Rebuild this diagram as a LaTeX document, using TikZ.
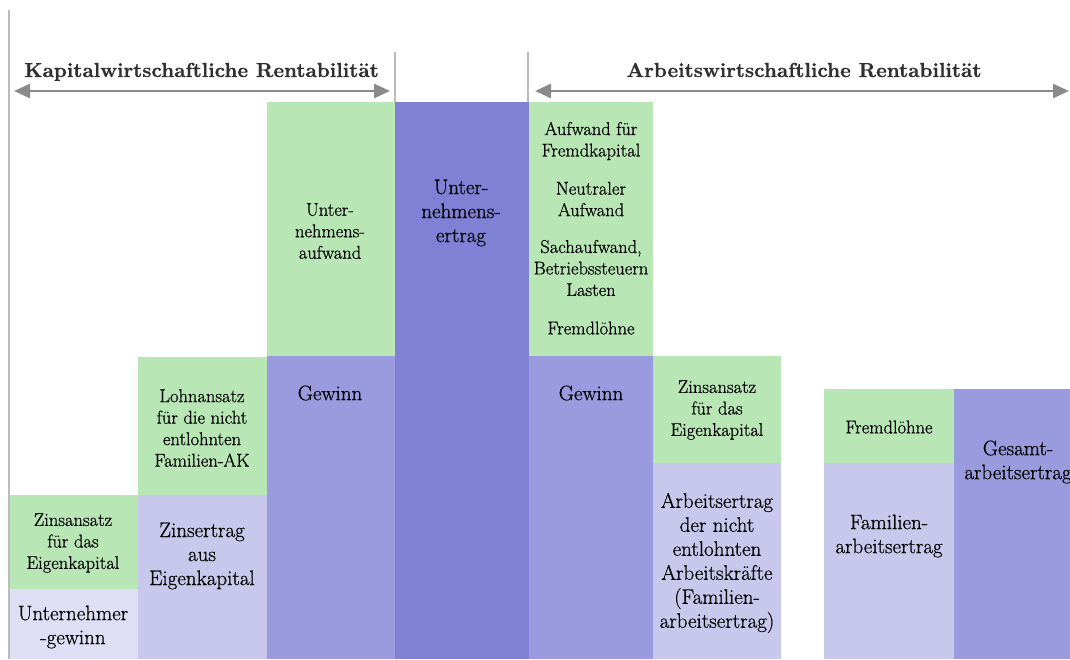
\documentclass[tikz,border=0pt]{standalone}
\usepackage{fontspec}
\usetikzlibrary{arrows.meta}
\newfontfamily\bodyfont{Latin Modern Roman}[FakeBold=0.6]
\newfontfamily\titlefont{lmroman10-bold}[Extension=.otf, FakeBold=0.7]
\definecolor{grn}{HTML}{B8E6B4}
\definecolor{lav}{HTML}{C8C8EC}
\definecolor{lavlight}{HTML}{DEDEF4}
\definecolor{pur}{HTML}{9A9ADE}
\definecolor{purdark}{HTML}{8080D4}
\definecolor{arrowgray}{HTML}{8A8A8A}
\definecolor{linegray}{HTML}{BBBBBB}
\definecolor{titlegray}{HTML}{303030}
\begin{document}
\begin{tikzpicture}[x=1pt,y=-1pt,
 small/.style={align=center,inner sep=0pt,text=black,font=\bodyfont\fontsize{18.5}{21.5}\selectfont},
 big/.style={align=center,inner sep=0pt,text=black,font=\bodyfont\fontsize{21}{24}\selectfont},
 title/.style={anchor=base,inner sep=0pt,text=titlegray,font=\titlefont\fontsize{20.3}{24}\selectfont},
 span/.style={arrowgray,line width=2.8pt,{Triangle[length=16pt,width=14pt]}-{Triangle[length=16pt,width=14pt]}},
 sep/.style={linegray,line width=1.5pt}]
\useasboundingbox (0,0) rectangle (1070,659);
% columns
\fill[grn] (10,495) rectangle (138,589);
\fill[lavlight] (10,589) rectangle (138,659);
\fill[grn] (138,357) rectangle (267,495);
\fill[lav] (138,495) rectangle (267,659);
\fill[grn] (267,102) rectangle (395,356);
\fill[pur] (267,356) rectangle (395,659);
\fill[purdark] (395,102) rectangle (529,659);
\fill[grn] (529,102) rectangle (653,356);
\fill[pur] (529,356) rectangle (653,659);
\fill[grn] (653,356) rectangle (781,463);
\fill[lav] (653,463) rectangle (781,659);
\fill[grn] (824,389) rectangle (954,463);
\fill[lav] (824,463) rectangle (954,659);
\fill[pur] (954,389) rectangle (1082,659);
% separators
\draw[sep] (9,10) -- (9,659);
\coordinate (m1t) at (395,52); \coordinate (m1b) at (395,102);
\coordinate (m2t) at (528,52); \coordinate (m2b) at (528,102);
\draw[sep] (m1t) -- (m1b);
\draw[sep] (m2t) -- (m2b);
% arrows and titles
\coordinate (a1l) at (14,91); \coordinate (a1r) at (390,91);
\coordinate (a2l) at (535,91); \coordinate (a2r) at (1069,91);
\draw[span] (a1l) -- (a1r);
\draw[span] (a2l) -- (a2r);
\node[title] (tk) at (201.5,77) {Kapitalwirtschaftliche Rentabilität};
\node[title] (ta) at (804,77) {Arbeitswirtschaftliche Rentabilität};
% texts
\node[small] (z1) at (73,543) {Zinsansatz\\für das\\Eigenkapital};
\node[big] (ug) at (73,627) {Unternehmer\\-gewinn};
\node[small] (la) at (202,428) {Lohnansatz\\für die nicht\\entlohnten\\Familien-AK};
\node[big] (ze) at (202,556) {Zinsertrag\\aus\\Eigenkapital};
\node[small] (ua) at (330,231) {Unter-\\nehmens-\\aufwand};
\node[big] (g1) at (330,393) {Gewinn};
\node[big] (ue) at (461,213) {Unter-\\nehmens-\\ertrag};
\node[small] (af) at (591,141) {Aufwand für\\Fremdkapital};
\node[small] (na) at (591,199) {Neutraler\\Aufwand};
\node[small] (sa) at (591,268) {Sachaufwand,\\Betriebssteuern\\Lasten};
\node[small] (fl1) at (591,328) {Fremdlöhne};
\node[big] (g2) at (591,393) {Gewinn};
\node[small] (z2) at (717,410) {Zinsansatz\\für das\\Eigenkapital};
\node[big] (ae) at (717,563) {Arbeitsertrag\\der nicht\\entlohnten\\Arbeitskräfte\\(Familien-\\arbeitsertrag)};
\node[small] (fl2) at (889,427) {Fremdlöhne};
\node[big] (fa) at (889,536) {Familien-\\arbeitsertrag};
\node[big] (ga) at (1018,462) {Gesamt-\\arbeitsertrag};
\end{tikzpicture}
\end{document}
